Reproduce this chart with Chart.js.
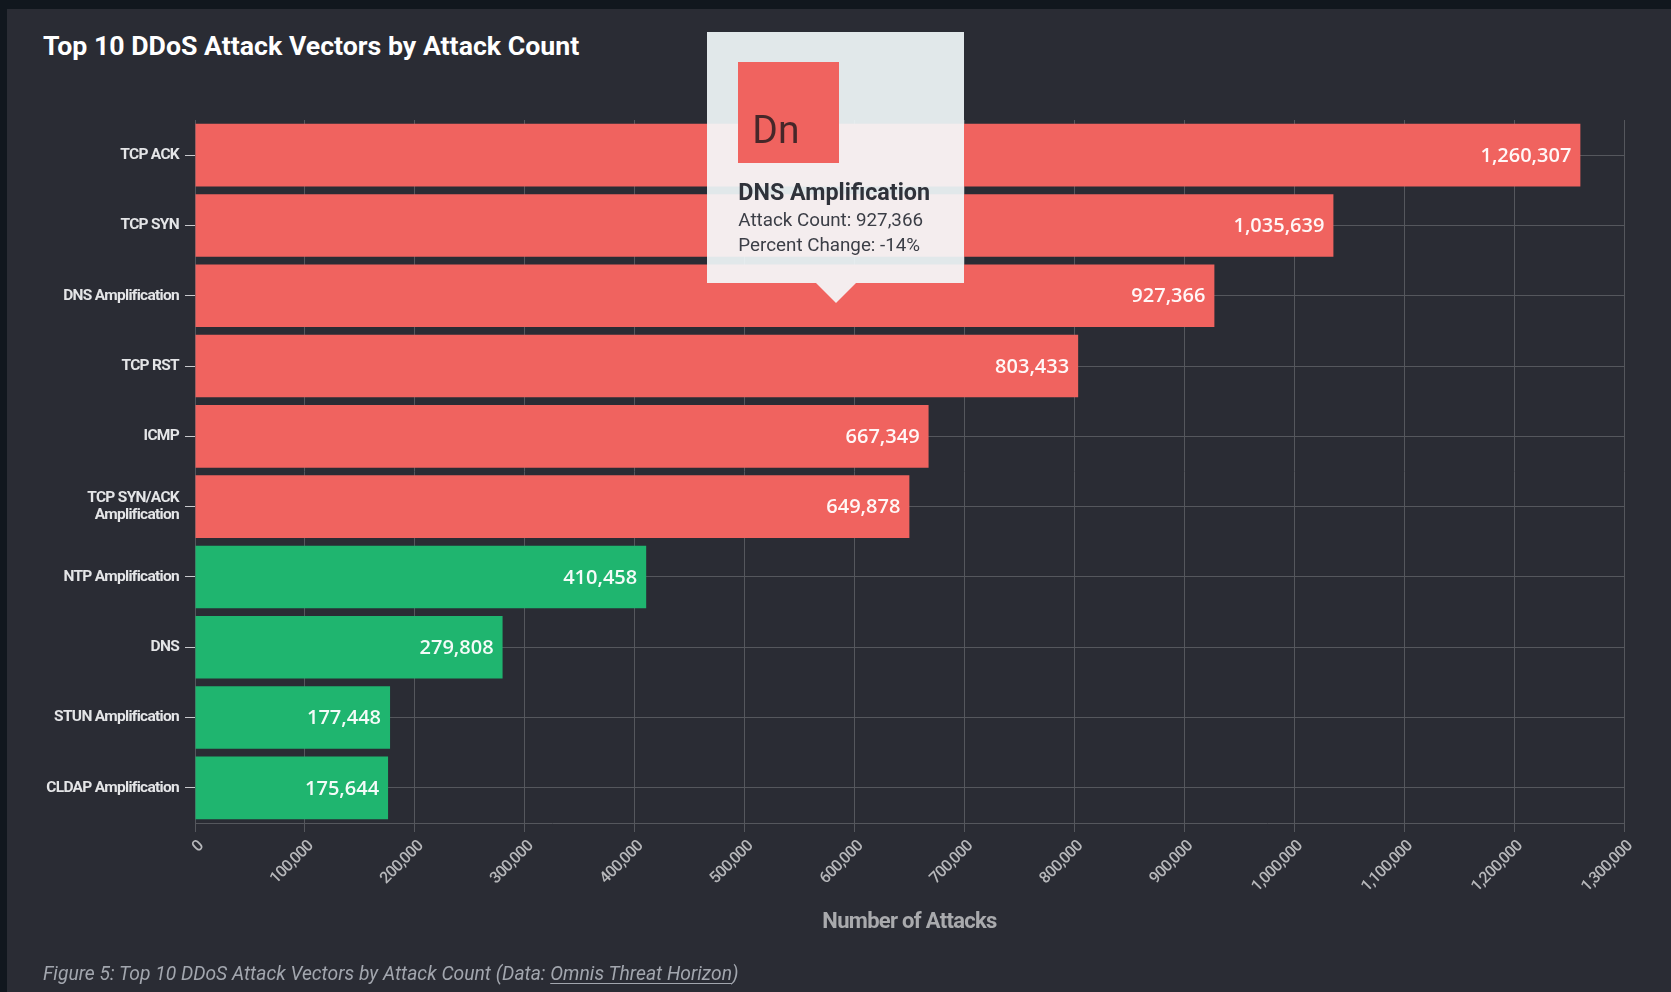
<!DOCTYPE html>
<html>
<head>
<meta charset="utf-8">
<title>Top 10 DDoS Attack Vectors by Attack Count</title>
<script src="https://cdn.jsdelivr.net/npm/chart.js@4.4.1/dist/chart.umd.min.js"></script>
<style>
  html, body {
    margin: 0;
    padding: 0;
    width: 1671px;
    height: 992px;
    overflow: hidden;
    background: #11171e;
  }
  .panel {
    position: absolute;
    left: 7px;
    top: 9px;
    right: 0;
    bottom: 0;
    background: #2a2c34;
  }
  .heading {
    position: absolute;
    left: 43px;
    top: 31px;
    margin: 0;
    font: bold 26.7px/30px Roboto, sans-serif;
    color: #ffffff;
    white-space: nowrap;
  }
  .caption {
    position: absolute;
    left: 43px;
    top: 963px;
    margin: 0;
    font: italic 19.3px/22px Roboto, sans-serif;
    color: #a2a6ae;
    white-space: nowrap;
  }
  .caption span {
    text-decoration: underline;
    text-underline-offset: 3px;
  }
  #chart {
    position: absolute;
    left: 0;
    top: 0;
  }
  .tip {
    position: absolute;
    width: 257px;
    box-sizing: border-box;
    padding: 30px 31px 25px;
    background: rgba(244, 251, 253, 0.91);
    font-family: Roboto, sans-serif;
    pointer-events: none;
    opacity: 0;
  }
  .tip:after {
    content: '';
    position: absolute;
    left: 50%;
    bottom: -20px;
    margin-left: -20px;
    border-top: 20px solid rgba(244, 251, 253, 0.91);
    border-left: 20px solid transparent;
    border-right: 20px solid transparent;
  }
  .tip .badge {
    position: relative;
    width: 101px;
    height: 101px;
  }
  .tip .badge b {
    position: absolute;
    left: 14px;
    top: 49px;
    font: 400 39px/39px Roboto, sans-serif;
    color: rgba(40, 28, 32, 0.85);
  }
  .tip .name {
    margin-top: 17px;
    font: bold 23.3px/25px Roboto, sans-serif;
    color: #2f323a;
    white-space: nowrap;
  }
  .tip .line {
    font: 18.8px/25px Roboto, sans-serif;
    color: #3b3e46;
    white-space: nowrap;
  }
  .tip .body {
    margin-top: 3px;
  }
</style>
</head>
<body>
<div class="panel"></div>
<h2 class="heading">Top 10 DDoS Attack Vectors by Attack Count</h2>
<canvas id="chart" width="1671" height="992"></canvas>
<div class="tip" id="tip"></div>
<p class="caption">Figure 5: Top 10 DDoS Attack Vectors by Attack Count (Data: <span>Omnis Threat Horizon</span>)</p>

<script>
var vectors = [
  'TCP ACK',
  'TCP SYN',
  'DNS Amplification',
  'TCP RST',
  'ICMP',
  ['TCP SYN/ACK', 'Amplification'],
  'NTP Amplification',
  'DNS',
  'STUN Amplification',
  'CLDAP Amplification'
];
var attackCounts = [1260307, 1035639, 927366, 803433, 667349, 649878, 410458, 279808, 177448, 175644];
// only the hovered vector shows its change
var percentChange = [null, null, -14, null, null, null, null, null, null, null];
var countTicks = [0, 100000, 200000, 300000, 400000, 500000, 600000, 700000,
  800000, 900000, 1000000, 1100000, 1200000, 1300000];

var RED = '#f0635f';
var GREEN = '#1fb56f';
var GRID = '#55575d';
var AXIS_FONT = 'Roboto, sans-serif';

function fmt(n) {
  return n.toLocaleString('en-US');
}

// axis text is set tight, like a condensed face
var tightText = {
  id: 'tightText',
  beforeDraw: function(chart) {
    chart.ctx.letterSpacing = '-0.7px';
  }
};

// value labels drawn inside the end of each bar
var barValues = {
  id: 'barValues',
  afterDatasetsDraw: function(chart) {
    var ctx = chart.ctx;
    var meta = chart.getDatasetMeta(0);
    ctx.save();
    ctx.letterSpacing = '0px';
    ctx.font = "600 20px 'Open Sans', sans-serif";
    ctx.fillStyle = 'rgba(255, 255, 255, 0.95)';
    ctx.textAlign = 'right';
    ctx.textBaseline = 'middle';
    meta.data.forEach(function(bar, i) {
      ctx.fillText(fmt(attackCounts[i]), bar.x - 9, bar.y + 1);
    });
    ctx.restore();
  }
};

Chart.Tooltip.positioners.pointer = function(elements, eventPosition) {
  return eventPosition;
};

function renderTip(context) {
  var tooltip = context.tooltip;
  var el = document.getElementById('tip');
  if (tooltip.opacity === 0 || !tooltip.dataPoints || !tooltip.dataPoints.length) {
    el.style.opacity = 0;
    return;
  }
  var i = tooltip.dataPoints[0].dataIndex;
  var name = [].concat(vectors[i]).join(' ');
  var badge = name.charAt(0) + name.charAt(1).toLowerCase();
  var color = tooltip.labelColors[0].backgroundColor;
  var lines = ['Attack Count: ' + fmt(attackCounts[i])];
  if (percentChange[i] !== null) {
    lines.push('Percent Change: ' + percentChange[i] + '%');
  }
  el.innerHTML =
    '<div class="badge" style="background:' + color + '"><b>' + badge + '</b></div>' +
    '<div class="name">' + name + '</div>' +
    '<div class="body">' + lines.map(function(l) {
      return '<div class="line">' + l + '</div>';
    }).join('') + '</div>';
  var canvas = context.chart.canvas;
  el.style.opacity = 1;
  el.style.left = (canvas.offsetLeft + tooltip.caretX - el.offsetWidth / 2) + 'px';
  el.style.top = (canvas.offsetTop + tooltip.caretY - 20 - el.offsetHeight) + 'px';
}

var ctx = document.getElementById('chart').getContext('2d');
var chart = new Chart(ctx, {
  type: 'bar',
  data: {
    labels: vectors,
    datasets: [{
      label: 'Attack Count',
      data: attackCounts,
      backgroundColor: function(c) { return c.dataIndex < 6 ? RED : GREEN; },
      borderWidth: 0,
      categoryPercentage: 1,
      barPercentage: 0.89
    }]
  },
  plugins: [tightText, barValues],
  options: {
    indexAxis: 'y',
    responsive: false,
    animation: false,
    events: [],
    layout: {
      padding: { top: 120, right: 47, bottom: 52, left: 0 }
    },
    plugins: {
      legend: { display: false },
      tooltip: {
        enabled: false,
        position: 'pointer',
        external: renderTip
      }
    },
    scales: {
      x: {
        min: 0,
        max: 1300000,
        afterBuildTicks: function(scale) {
          scale.ticks = countTicks.map(function(v) { return { value: v }; });
        },
        afterFit: function(scale) { scale.height = 117; },
        grid: {
          color: GRID,
          tickColor: GRID,
          tickLength: 9,
          lineWidth: 1
        },
        border: { color: GRID },
        ticks: {
          autoSkip: false,
          minRotation: 45,
          maxRotation: 45,
          padding: 5,
          labelOffset: 6,
          color: '#b7b8bb',
          font: { family: AXIS_FONT, size: 16, weight: '500' },
          callback: function(v) { return fmt(v); }
        },
        title: {
          display: true,
          text: 'Number of Attacks',
          color: '#a9aaad',
          font: { family: AXIS_FONT, size: 22, weight: 'bold' },
          padding: { top: 4, bottom: 4 }
        }
      },
      y: {
        afterFit: function(scale) { scale.width = 195; },
        grid: {
          offset: false,
          color: GRID,
          tickColor: '#c8c9cc',
          tickLength: 10
        },
        border: { color: GRID },
        ticks: {
          padding: 6,
          color: '#e4e5e7',
          font: { family: AXIS_FONT, size: 15.5, weight: 'bold', lineHeight: 1.08 }
        }
      }
    }
  }
});

// hover the DNS Amplification bar
var hovered = chart.getDatasetMeta(0).data[2];
chart.tooltip.setActiveElements(
  [{ datasetIndex: 0, index: 2 }],
  { x: chart.scales.x.getPixelForValue(583000), y: hovered.y + 7 }
);
chart.draw();
</script>
</body>
</html>
